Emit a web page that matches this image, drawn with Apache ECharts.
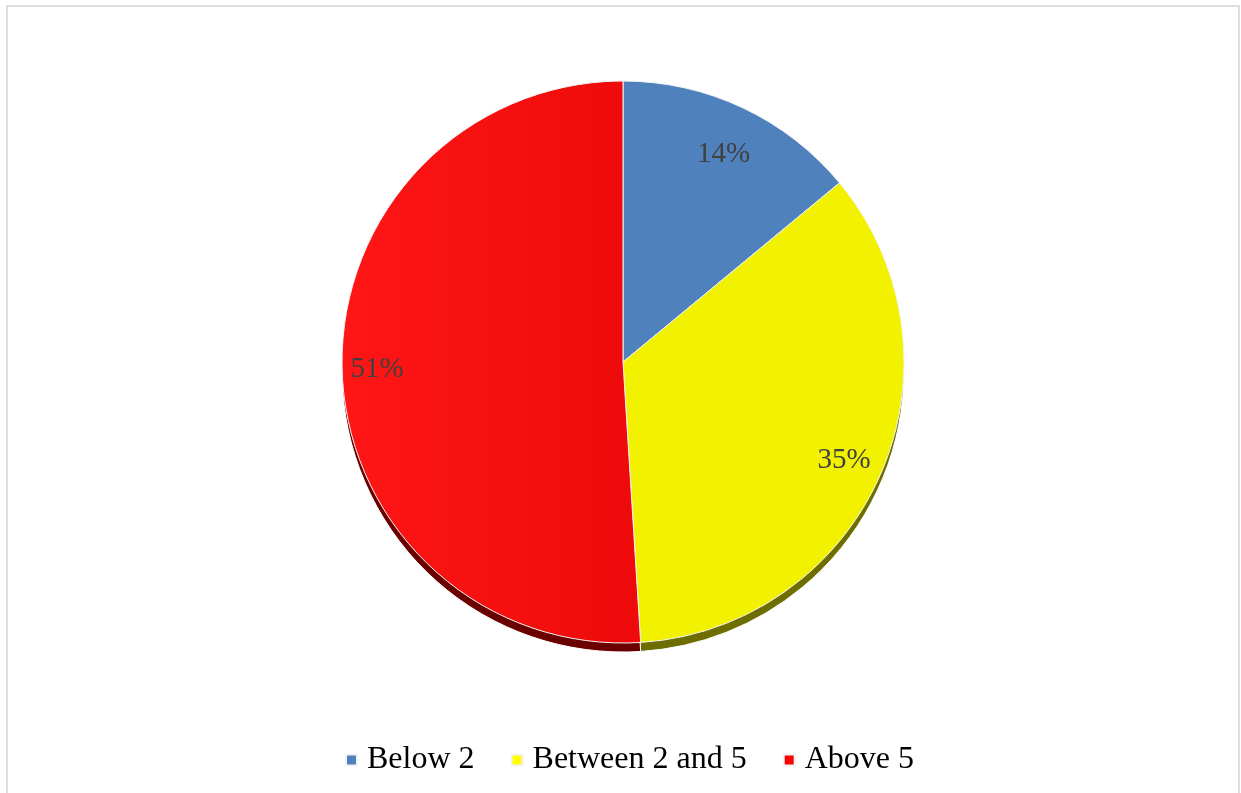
<!DOCTYPE html>
<html>
<head>
<meta charset="utf-8">
<script src="https://cdn.jsdelivr.net/npm/echarts@6/dist/echarts.min.js"></script>
<style>
html,body{margin:0;padding:0;background:#fff;overflow:hidden;}
#frame{position:absolute;left:6px;top:5px;width:1234px;height:820px;border:2px solid #dedede;box-sizing:border-box;pointer-events:none;z-index:5;}
#chart{position:absolute;left:0;top:0;width:1241px;height:793px;}
</style>
</head>
<body>
<div id="chart"></div>
<div id="frame"></div>
<script>
const categories = ['Below 2', 'Between 2 and 5', 'Above 5'];
const values = [14, 35, 51];
const faceColors = ['#4f81bd', '#f2f200', '#f50d0d'];
const edgeColors = ['#2c4a70', '#6e6e00', '#6a0000'];
const legendColors = ['#4f81bd', '#ffff00', '#ff0000'];
const labelOffsets = [[-3, 12], [-2, 2], [-3, 0]];

const chart = echarts.init(document.getElementById('chart'), null, {renderer: 'canvas'});
const CX = 623, CY = 362, R = 281;

const faceData = categories.map((c, i) => ({
  name: c, value: values[i],
  itemStyle: {
    color: i === 2 ? new echarts.graphic.LinearGradient(0, 0, 1, 0, [
      {offset: 0, color: '#ff1616'}, {offset: 1, color: '#ee0a0a'}]) : faceColors[i]
  }
}));
const edgeData = categories.map((c, i) => ({name: c, value: values[i], itemStyle: {color: edgeColors[i]}}));
const labelData = categories.map((c, i) => ({name: c, value: values[i], label: {offset: labelOffsets[i]}}));

chart.setOption({
  backgroundColor: '#ffffff',
  animation: false,
  legend: {
    data: categories.map((c, i) => ({name: c, itemStyle: {color: legendColors[i]}})),
    bottom: 12,
    left: 340,
    icon: 'rect',
    itemWidth: 11,
    itemHeight: 11,
    itemGap: 36,
    textStyle: {fontFamily: 'Liberation Serif', fontSize: 32, color: '#000', padding: [0, 0, 0, 5]}
  },
  series: [
    {
      type: 'pie', name: 'face', z: 3,
      center: [CX, CY], radius: [0, R],
      startAngle: 90, clockwise: true,
      itemStyle: {borderColor: '#f4f4f4', borderWidth: 1},
      label: {show: false}, labelLine: {show: false},
      emphasis: {scale: false},
      data: faceData
    },
    {
      type: 'pie', name: 'edge', z: 2, silent: true,
      center: [CX, CY + 9], radius: [0, R],
      startAngle: 90, clockwise: true,
      itemStyle: {borderColor: '#ffffff', borderWidth: 1},
      label: {show: false}, labelLine: {show: false},
      data: edgeData
    },
    {
      type: 'pie', name: 'labels', z: 4, silent: true,
      center: [CX, CY], radius: [200, 280],
      startAngle: 90, clockwise: true,
      itemStyle: {color: 'rgba(0,0,0,0)', borderWidth: 0},
      label: {
        show: true, position: 'inside',
        formatter: p => p.value + '%',
        fontFamily: 'Liberation Serif', fontSize: 29, color: '#404040'
      },
      labelLine: {show: false},
      data: labelData
    }
  ]
});
</script>
</body>
</html>
